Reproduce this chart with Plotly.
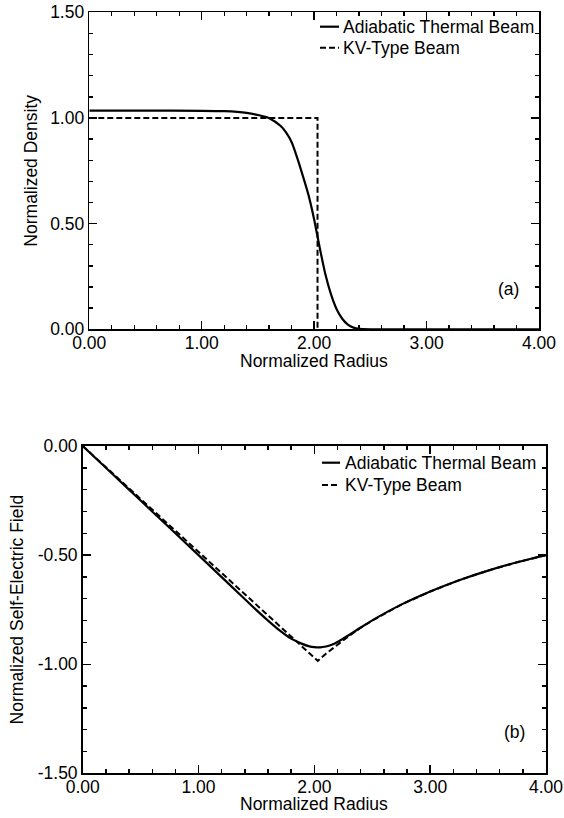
import plotly.graph_objects as go

# ---------------- data ----------------
r_density = [0, 0.5, 1.0, 1.2, 1.4, 1.5, 1.6, 1.7, 1.75, 1.8, 1.85, 1.9, 1.95, 2.0,
             2.05, 2.1, 2.15, 2.2, 2.25, 2.3, 2.35, 2.4, 2.5, 3.0, 4.0]
n_adiabatic = [1.035, 1.035, 1.034, 1.032, 1.024, 1.014, 0.999, 0.963, 0.932, 0.885,
               0.81, 0.725, 0.635, 0.52, 0.385, 0.26, 0.165, 0.095, 0.05, 0.022,
               0.008, 0.002, 0.0, 0.0, 0.0]
r_kv_density = [0, 2.03, 2.03]
n_kv = [1.0, 1.0, 0.0]

r_field = [0, 0.25, 0.5, 0.75, 1.0, 1.25, 1.5, 1.6, 1.7, 1.8, 1.9, 1.95, 2.0, 2.05,
           2.1, 2.15, 2.2, 2.3, 2.4, 2.5, 2.75, 3.0, 3.25, 3.5, 3.75, 4.0]
E_adiabatic = [0, -0.125, -0.25, -0.375, -0.5, -0.626, -0.752, -0.8, -0.845, -0.883,
               -0.908, -0.917, -0.922, -0.923, -0.919, -0.911, -0.898, -0.866, -0.832,
               -0.799, -0.727, -0.667, -0.615, -0.571, -0.533, -0.5]
r_kv_field = [0, 2.03, 2.1, 2.2, 2.3, 2.4, 2.5, 2.75, 3.0, 3.25, 3.5, 3.75, 4.0]
E_kv = [0, -0.985, -0.952, -0.909, -0.870, -0.833, -0.80, -0.727, -0.667, -0.615,
        -0.571, -0.533, -0.5]

x_tickvals = [0, 1, 2, 3, 4]
x_ticktext = ["0.00", "1.00", "2.00", "3.00", "4.00"]
y1_tickvals = [0, 0.5, 1.0, 1.5]
y1_ticktext = ["0.00", "0.50", "1.00", "1.50"]
y2_tickvals = [-1.5, -1.0, -0.5, 0]
y2_ticktext = ["-1.50", "-1.00", "-0.50", "0.00"]

legend_names = ["Adiabatic Thermal Beam", "KV-Type Beam"]
panel_labels = ["(a)", "(b)"]
x_title = "Normalized Radius"
y_titles = ["Normalized Density", "Normalized Self-Electric Field"]

# ---------------- figure ----------------
W, H = 564, 818
FONT = "Arial, Liberation Sans, Helvetica, sans-serif"
FS = 17.5
BLACK = "#000000"
DASH = "6px,3px"

fig = go.Figure()

fig.add_trace(go.Scatter(x=r_density, y=n_adiabatic, mode="lines",
                         line=dict(color=BLACK, width=2.2, shape="spline", smoothing=0.6),
                         xaxis="x", yaxis="y", showlegend=False, name=legend_names[0]))
fig.add_trace(go.Scatter(x=r_kv_density, y=n_kv, mode="lines",
                         line=dict(color=BLACK, width=2, dash=DASH),
                         xaxis="x", yaxis="y", showlegend=False, name=legend_names[1]))
fig.add_trace(go.Scatter(x=r_field, y=E_adiabatic, mode="lines",
                         line=dict(color=BLACK, width=2.2, shape="spline", smoothing=0.6),
                         xaxis="x2", yaxis="y2", showlegend=False, name=legend_names[0]))
fig.add_trace(go.Scatter(x=r_kv_field, y=E_kv, mode="lines",
                         line=dict(color=BLACK, width=2, dash=DASH),
                         xaxis="x2", yaxis="y2", showlegend=False, name=legend_names[1]))

def px_x(p):
    return p / W

def px_y(p):
    return 1 - p / H

# plot-area pixel boxes (left, right, top, bottom)
top_box = (89.3, 539.0, 12.3, 329.3)
bot_box = (82.7, 546.0, 446.0, 773.3)

def axis_common(minor_dtick):
    return dict(
        showline=True, linecolor=BLACK, linewidth=1.6, mirror="allticks",
        ticks="inside", ticklen=8, tickwidth=1.4, tickcolor=BLACK,
        showgrid=False, zeroline=False,
        tickfont=dict(family=FONT, size=FS, color=BLACK),
        minor=dict(tickmode="linear", tick0=0, dtick=minor_dtick, ticks="inside",
                   ticklen=4, tickwidth=1.4, tickcolor=BLACK, showgrid=False),
        title_font=dict(family=FONT, size=FS, color=BLACK),
    )

xa1 = axis_common(0.2)
xa1.update(domain=[px_x(top_box[0]), px_x(top_box[1])], anchor="y", range=[0, 4],
           tickmode="array", tickvals=x_tickvals, ticktext=x_ticktext,
           ticklabelstandoff=-3)
ya1 = axis_common(0.1)
ya1.update(domain=[px_y(top_box[3]), px_y(top_box[2])], anchor="x", range=[0, 1.5],
           tickmode="array", tickvals=y1_tickvals, ticktext=y1_ticktext,
           title=dict(text=y_titles[0], standoff=8))
xa2 = axis_common(0.2)
xa2.update(domain=[px_x(bot_box[0]), px_x(bot_box[1])], anchor="y2", range=[0, 4],
           tickmode="array", tickvals=x_tickvals, ticktext=x_ticktext,
           ticklabelstandoff=-3)
ya2 = axis_common(0.1)
ya2.update(domain=[px_y(bot_box[3]), px_y(bot_box[2])], anchor="x2", range=[-1.5, 0],
           tickmode="array", tickvals=y2_tickvals, ticktext=y2_ticktext,
           title=dict(text=y_titles[1], standoff=9))

shapes = []
annotations = []

def add_legend(row_y_px, x_line0, x_line1, x_text):
    for i, name in enumerate(legend_names):
        y = row_y_px[i]
        shapes.append(dict(type="line", xref="paper", yref="paper",
                           x0=px_x(x_line0), x1=px_x(x_line1), y0=px_y(y), y1=px_y(y),
                           line=dict(color=BLACK, width=2.2 if i == 0 else 2,
                                     dash=None if i == 0 else DASH)))
        annotations.append(dict(xref="paper", yref="paper", x=px_x(x_text), y=px_y(y),
                                xanchor="left", yanchor="middle", text=name,
                                showarrow=False,
                                font=dict(family=FONT, size=FS, color=BLACK)))

add_legend([26.7, 47.7], 320, 339, 341)
add_legend([462.7, 485.0], 322, 340, 343)

def add_text(x, y, text):
    annotations.append(dict(xref="paper", yref="paper", x=px_x(x), y=px_y(y),
                            xanchor="center", yanchor="middle", text=text,
                            showarrow=False, font=dict(family=FONT, size=FS, color=BLACK)))

add_text(508, 289, panel_labels[0])
add_text(514, 731.7, panel_labels[1])
add_text((top_box[0] + top_box[1]) / 2, 361, x_title)
add_text((bot_box[0] + bot_box[1]) / 2, 804, x_title)

fig.update_layout(
    width=W, height=H,
    margin=dict(l=0, r=0, t=0, b=0, autoexpand=False),
    paper_bgcolor="white", plot_bgcolor="white",
    xaxis=xa1, yaxis=ya1, xaxis2=xa2, yaxis2=ya2,
    shapes=shapes, annotations=annotations,
    showlegend=False, hovermode=False,
    font=dict(family=FONT, size=FS, color=BLACK),
)

fig.write_html("out.html",
               config={"displayModeBar": False, "staticPlot": True},
               post_script="document.body.style.margin='0px';"
                           "document.body.style.padding='0px';"
                           "document.body.style.overflow='hidden';")
